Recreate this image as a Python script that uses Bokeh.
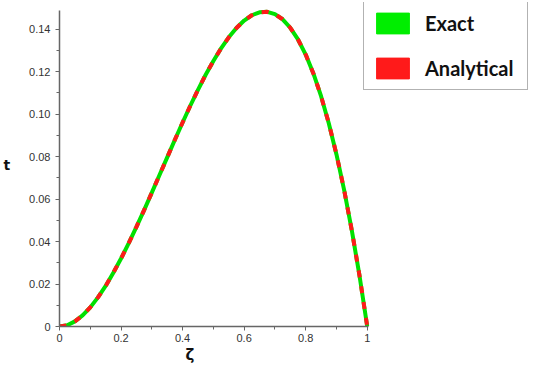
from bokeh.plotting import figure
from bokeh.models import Range1d, FixedTicker, Legend, LegendItem, Title
from bokeh.embed import file_html
from bokeh.resources import INLINE

zeta = [0, 0.025, 0.05, 0.075, 0.1, 0.125, 0.15, 0.175, 0.2, 0.225, 0.25, 0.275, 0.3, 0.325,
        0.35, 0.375, 0.4, 0.425, 0.45, 0.475, 0.5, 0.525, 0.55, 0.575, 0.6, 0.625, 0.65,
        0.675, 0.7, 0.725, 0.75, 0.775, 0.8, 0.825, 0.85, 0.875, 0.9, 0.925, 0.95, 0.975, 1.0]
t_exact = [0, 0.0006, 0.0024, 0.0052, 0.009, 0.0137, 0.0191, 0.0253, 0.032, 0.0392, 0.0469,
           0.0548, 0.063, 0.0713, 0.0796, 0.0879, 0.096, 0.1039, 0.1114, 0.1185, 0.125,
           0.1309, 0.1361, 0.1405, 0.144, 0.1465, 0.1479, 0.1481, 0.147, 0.1446, 0.1406,
           0.1351, 0.128, 0.1191, 0.1084, 0.0957, 0.081, 0.0642, 0.0451, 0.0238, 0]
t_analytical = list(t_exact)

x_ticks = [0, 0.2, 0.4, 0.6, 0.8, 1.0]
x_labels = ["0", "0.2", "0.4", "0.6", "0.8", "1"]
y_ticks = [0, 0.02, 0.04, 0.06, 0.08, 0.10, 0.12, 0.14]
y_labels = ["0", "0.02", "0.04", "0.06", "0.08", "0.10", "0.12", "0.14"]
series_names = ["Exact", "Analytical"]

p = figure(width=530, height=369, output_backend="svg", toolbar_location=None,
           x_range=Range1d(0, 1.524), y_range=Range1d(0, 0.1525),
           min_border_left=56, min_border_top=2, min_border_right=2, min_border_bottom=43)
p.outline_line_color = None
p.xgrid.visible = False
p.ygrid.visible = False

r1 = p.line(zeta, t_exact, line_color="#00e000", line_width=4)
r2 = p.line(zeta, t_analytical, line_color="#ff1a1a", line_width=4, line_dash="7 9")

# legend proxy glyphs (outside the visible range)
g1 = p.rect(x=[-1], y=[-1], width=0.01, height=0.01, fill_color="#00ee00", line_color="#00ee00")
g2 = p.rect(x=[-1], y=[-1], width=0.01, height=0.01, fill_color="#ff1a1a", line_color="#ff1a1a")

for ax, ticks, labels in ((p.xaxis[0], x_ticks, x_labels), (p.yaxis[0], y_ticks, y_labels)):
    ax.major_label_overrides = {tk: lb for tk, lb in zip(ticks, labels)}
    ax.axis_line_color = "#666666"
    ax.axis_line_width = 1.5
    ax.major_tick_line_color = "#666666"
    ax.minor_tick_line_color = "#666666"
    ax.major_tick_out = 4
    ax.major_tick_in = 0
    ax.minor_tick_out = 3
    ax.minor_tick_in = 0
    ax.major_label_text_font = "Liberation Sans"
    ax.major_label_text_font_size = "11px"
    ax.major_label_text_color = "#333333"

p.xaxis[0].bounds = (0, 1.005)
p.yaxis[0].bounds = (0, 0.1487)
p.xaxis[0].ticker = FixedTicker(ticks=x_ticks, minor_ticks=[0.1, 0.3, 0.5, 0.7, 0.9])
p.yaxis[0].ticker = FixedTicker(ticks=y_ticks, minor_ticks=[0.01, 0.03, 0.05, 0.07, 0.09, 0.11, 0.13])
p.xaxis[0].major_label_standoff = 3
p.yaxis[0].axis_label = "t"
p.yaxis[0].axis_label_orientation = "horizontal"
p.yaxis[0].axis_label_standoff = 16
p.yaxis[0].axis_label_text_font = "DejaVu Sans"
p.yaxis[0].axis_label_text_font_style = "bold"
p.yaxis[0].axis_label_text_font_size = "14px"
p.yaxis[0].axis_label_text_color = "#111111"

xlabel = Title(text="ζ", align="left", offset=126, standoff=3, vertical_align="top",
               text_font="DejaVu Sans", text_font_style="bold", text_font_size="15px",
               text_color="#111111")
p.add_layout(xlabel, "below")

legend = Legend(items=[LegendItem(label=series_names[0], renderers=[g1]),
                       LegendItem(label=series_names[1], renderers=[g2])],
                location=(304, 236))
legend.border_line_color = "#666666"
legend.border_line_width = 1.5
legend.background_fill_color = "white"
legend.background_fill_alpha = 1.0
legend.glyph_width = 41
legend.glyph_height = 26
legend.label_text_font = "Lato"
legend.label_text_font_style = "bold"
legend.label_text_font_size = "20px"
legend.label_text_color = "#111111"
legend.label_standoff = 12
legend.label_width = 94
legend.label_height = 26
legend.spacing = 19
legend.padding = 8
legend.margin = 0
p.add_layout(legend, "center")

open("out.html", "w").write(file_html(p, INLINE))
